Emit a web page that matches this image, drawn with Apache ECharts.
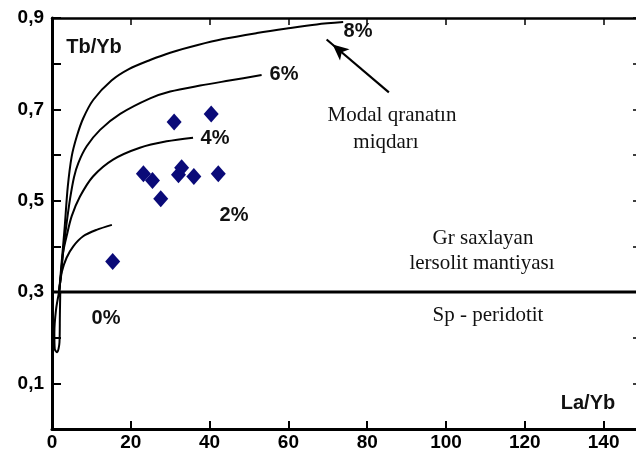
<!DOCTYPE html>
<html><head><meta charset="utf-8">
<script src="https://cdn.jsdelivr.net/npm/echarts@6/dist/echarts.min.js"></script>
<style>html,body{margin:0;padding:0;background:#fff}#c{width:636px;height:454px}</style>
</head><body><div id="c"></div>
<script>
const xTickLabels = ['0','20','40','60','80','100','120','140'];
const yTickLabels = ['0,1','0,3','0,5','0,7','0,9'];
const sampleLaYb = [15.4, 23.2, 25.5, 27.6, 31.0, 32.1, 32.9, 36.0, 40.4, 42.2];
const sampleTbYb = [0.367, 0.559, 0.544, 0.504, 0.672, 0.557, 0.572, 0.553, 0.690, 0.559];
const curve8 = [[1.8,0.30],[2.4,0.36],[3.2,0.44],[4.0,0.53],[5.0,0.597],[6.3,0.641],[7.9,0.680],[10.5,0.721],[15.1,0.763],[19.5,0.788],[24.9,0.808],[30.0,0.824],[37.0,0.841],[43.4,0.854],[52.0,0.867],[59.6,0.877],[67.2,0.886],[73.9,0.891]];
const curve6 = [[1.8,0.30],[2.3,0.34],[2.9,0.393],[3.7,0.45],[4.6,0.505],[5.6,0.552],[6.7,0.583],[8.8,0.619],[12.2,0.655],[17.3,0.690],[24.9,0.724],[30.0,0.739],[37.6,0.752],[45.0,0.763],[53.2,0.775]];
const curve4 = [[1.8,0.30],[2.3,0.34],[2.8,0.386],[3.7,0.422],[5.0,0.466],[7.1,0.509],[10.4,0.553],[15.5,0.590],[22.3,0.616],[29.1,0.630],[35.8,0.638]];
const curve2 = [[1.8,0.30],[2.5,0.344],[3.7,0.375],[5.4,0.400],[7.9,0.422],[11.3,0.436],[15.2,0.447]];
const curve0 = [[1.8,0.30],[1.0,0.26],[0.6,0.21],[0.7,0.175],[1.3,0.168],[1.9,0.19],[2.0,0.25],[2.1,0.30]];
const boundary = [[0,0.3],[150,0.3]];
const arrowFrom = [85.5, 0.737];
const arrowTo = [69.7, 0.853];

const chart = echarts.init(document.getElementById('c'), null, {renderer:'canvas'});
const bold = {color:'#000', fontWeight:'bold', fontFamily:'Liberation Sans, Arial, sans-serif', fontSize:19};
const sampleData = sampleLaYb.map((x,i)=>[x, sampleTbYb[i]]);
function curveSeries(d){
  return {type:'line', data:d, smooth:0.3, showSymbol:false, symbol:'none', lineStyle:{color:'#000', width:2}, silent:true, z:3};
}
function txt(t, x, y, font){
  return {type:'text', x:x, y:y, style:{text:t, align:'center', verticalAlign:'middle', font:font, fill:'#111'}, z:10};
}
const bf = 'bold 20px "Liberation Sans", Arial, sans-serif';
const sf = '21px "Liberation Serif", "Times New Roman", serif';
chart.setOption({
  animation:false,
  backgroundColor:'#fff',
  grid:{left:52, right:-7, top:18, bottom:25, containLabel:false, outerBoundsMode:'none'},
  xAxis:[
    {type:'value', min:0, max:150, interval:20, position:'bottom',
     axisLine:{onZero:false, lineStyle:{color:'#000', width:3}},
     axisTick:{inside:true, length:8, lineStyle:{color:'#000', width:2}},
     axisLabel:Object.assign({margin:4, formatter:v=>{const s=String(v);return xTickLabels.includes(s)?s:'';}}, bold),
     splitLine:{show:false}},
    {type:'value', min:0, max:150, interval:20, position:'top',
     axisLine:{onZero:false, lineStyle:{color:'#000', width:2.5}},
     axisTick:{inside:true, length:7, lineStyle:{color:'#000', width:1.5}},
     axisLabel:{show:false}, splitLine:{show:false}}
  ],
  yAxis:[
    {type:'value', min:0, max:0.9, interval:0.1, position:'left',
     axisLine:{onZero:false, lineStyle:{color:'#000', width:3}},
     axisTick:{inside:true, length:9, lineStyle:{color:'#000', width:2}},
     axisLabel:Object.assign({margin:8, formatter:v=>{const s='0,'+Math.round(v*10);return yTickLabels.includes(s)?s:'';}}, bold),
     splitLine:{show:false}},
    {type:'value', min:0, max:0.9, interval:0.1, position:'right',
     axisLine:{onZero:false, lineStyle:{color:'#000', width:2}},
     axisTick:{inside:true, length:10, lineStyle:{color:'#000', width:1.5}},
     axisLabel:{show:false}, splitLine:{show:false}}
  ],
  series:[
    {type:'line', data:boundary, showSymbol:false, symbol:'none', lineStyle:{color:'#000', width:3}, silent:true, z:2},
    {type:'line', data:[arrowFrom, arrowTo], showSymbol:false, symbol:'none', lineStyle:{color:'#000', width:2.2}, silent:true, z:4,
     markPoint:{silent:true, symbol:'arrow', symbolSize:[11,16], symbolRotate:49.5, itemStyle:{color:'#000'}, label:{show:false},
       data:[{coord:arrowTo, symbolOffset:[6,5]}]}},
    curveSeries(curve8), curveSeries(curve6), curveSeries(curve4), curveSeries(curve2), curveSeries(curve0),
    {type:'scatter', data:sampleData, symbol:'diamond', symbolSize:[15,17], itemStyle:{color:'#0a0a78', opacity:1}, z:5, silent:true}
  ],
  graphic:[
    txt('Tb/Yb', 94, 47, bf),
    txt('La/Yb', 588, 403, bf),
    txt('8%', 358, 31, bf),
    txt('6%', 284, 74, bf),
    txt('4%', 215, 138, bf),
    txt('2%', 234, 215, bf),
    txt('0%', 106, 318, bf),
    txt('Modal qranatın', 392, 115, sf),
    txt('miqdarı', 386, 142, sf),
    txt('Gr saxlayan', 483, 238, sf),
    txt('lersolit mantiyası', 482, 263, sf),
    txt('Sp - peridotit', 488, 315, sf)
  ]
});
</script></body></html>
